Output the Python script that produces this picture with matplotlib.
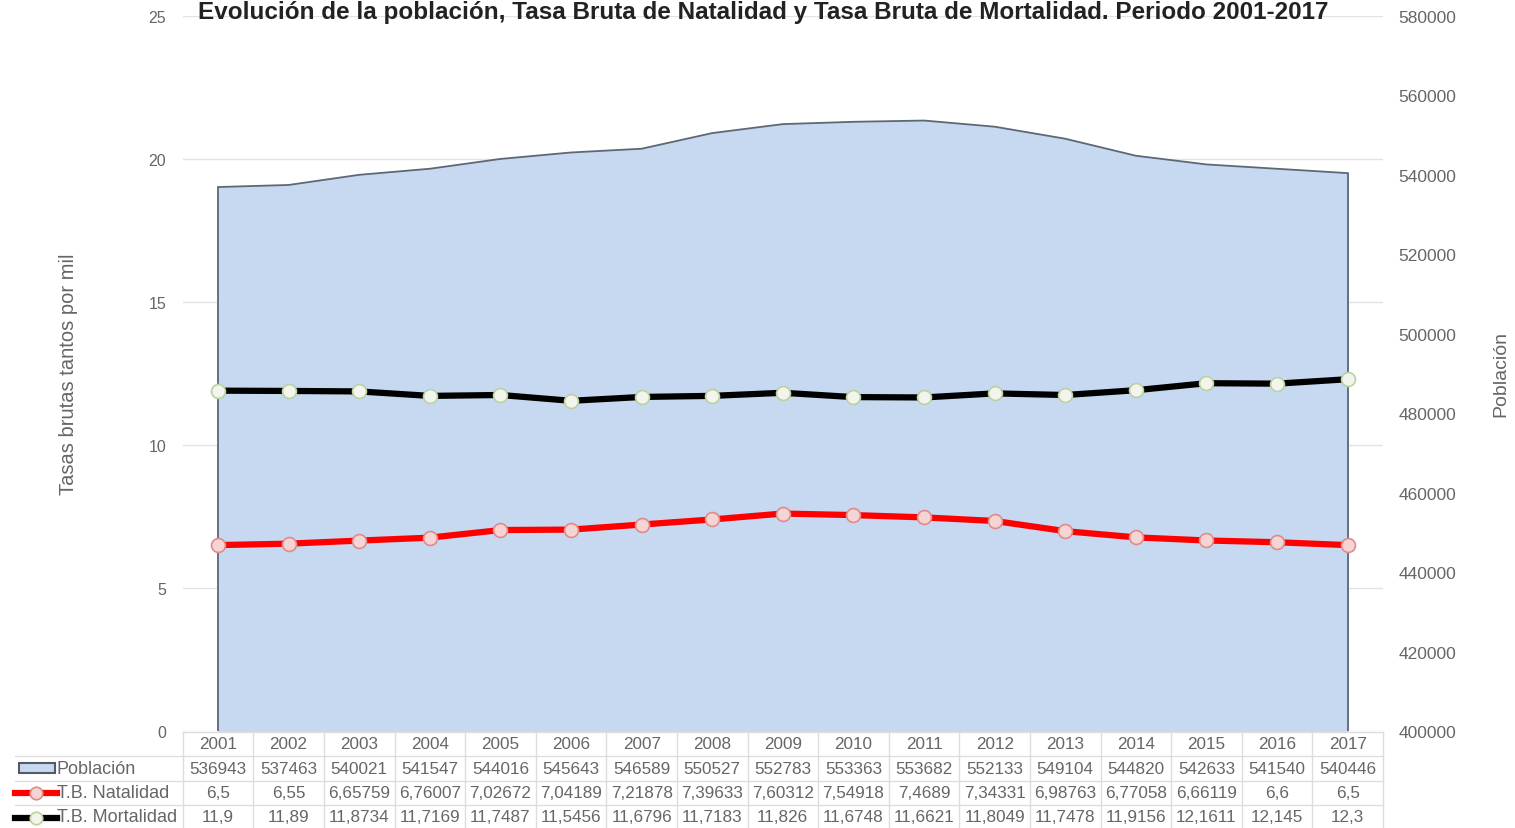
from matplotlib import pyplot as plt
from matplotlib.lines import Line2D
from matplotlib.patches import Rectangle
import matplotlib.transforms as mtransforms
import numpy as np

plt.rcParams['font.family'] = ['Liberation Sans', 'DejaVu Sans']

years = [2001, 2002, 2003, 2004, 2005, 2006, 2007, 2008, 2009,
         2010, 2011, 2012, 2013, 2014, 2015, 2016, 2017]
poblacion = [536943, 537463, 540021, 541547, 544016, 545643, 546589, 550527, 552783,
             553363, 553682, 552133, 549104, 544820, 542633, 541540, 540446]
natalidad = [6.5, 6.55, 6.65759, 6.76007, 7.02672, 7.04189, 7.21878, 7.39633, 7.60312,
             7.54918, 7.4689, 7.34331, 6.98763, 6.77058, 6.66119, 6.6, 6.5]
mortalidad = [11.9, 11.89, 11.8734, 11.7169, 11.7487, 11.5456, 11.6796, 11.7183, 11.826,
              11.6748, 11.6621, 11.8049, 11.7478, 11.9156, 12.1611, 12.145, 12.3]
row_names = ["Población", "T.B. Natalidad", "T.B. Mortalidad"]

W, H = 1515, 829
fig = plt.figure(figsize=(W / 100, H / 100), dpi=100)
fig.patch.set_facecolor("white")

# axes box in pixels
x0, x1 = 182.7, 1383.0
ytop, ybot = 17.0, 732.0
pos = [x0 / W, (H - ybot) / H, (x1 - x0) / W, (ybot - ytop) / H]

gray = "#666666"
x = np.arange(len(years))

ax = fig.add_axes(pos)
ax.set_xlim(-0.5, len(years) - 0.5)
ax.set_ylim(0, 25)
ax.set_yticks([0, 5, 10, 15, 20, 25])
ax.set_xticks([])
ax.grid(axis="y", color="#e3e3e3", linewidth=1)
ax.tick_params(axis="y", length=0, pad=12, labelsize=11.5, labelcolor=gray)
for s in ax.spines.values():
    s.set_visible(False)
ax.set_ylabel("Tasas brutas tantos por mil", fontsize=14.5, color=gray)
ax.yaxis.set_label_coords(-0.0875, 0.5)

ax2 = ax.twinx()
ax2.set_ylim(400000, 580000)
ax2.set_yticks(np.arange(400000, 580001, 20000))
ax2.tick_params(axis="y", length=0, pad=11, labelsize=12.5, labelcolor=gray)
for s in ax2.spines.values():
    s.set_visible(False)
ax2.fill_between(x, poblacion, 400000, color="#c6d9f0", zorder=1)
ax2.plot(x, poblacion, color="#5e6875", linewidth=1.3, zorder=2)
ax2.vlines([x[0], x[-1]], 400000, [poblacion[0], poblacion[-1]], color="#5e6875", linewidth=1.3, zorder=2)
ax2.set_ylabel("Población", fontsize=14, color=gray, rotation=90)
ax2.yaxis.set_label_coords(1.0915, 0.5)

ax3 = fig.add_axes(pos)
ax3.set_xlim(ax.get_xlim())
ax3.set_ylim(0, 25)
ax3.axis("off")
ax3.plot(x, mortalidad, color="black", linewidth=4.5, marker="o", markersize=10,
         markerfacecolor="#f4f4ee", markeredgecolor="#b9d2a0", markeredgewidth=1.2, zorder=4)
ax3.plot(x, natalidad, color="#ff0000", linewidth=4.5, marker="o", markersize=10,
         markerfacecolor="#f6d4d4", markeredgecolor="#e08a8a", markeredgewidth=1.2, zorder=4)

fig.text(763 / W, 1 - 0.5 / H,
         "Evolución de la población, Tasa Bruta de Natalidad y Tasa Bruta de Mortalidad. Periodo 2001-2017",
         ha="center", va="top", fontsize=17.5, fontweight="bold", color="#222222")

# data table under the chart
tr = mtransforms.blended_transform_factory(ax.transData, fig.transFigure)
rows_y = [733, 757, 781.5, 806, 830]
line_c = "#dddddd"
for k in range(len(years) + 1):
    fig.add_artist(Line2D([k - 0.5, k - 0.5], [1 - rows_y[0] / H, 1 - rows_y[-1] / H],
                          transform=tr, color=line_c, linewidth=1))
for j, py in enumerate(rows_y):
    xs = 15 / W if j >= 1 else x0 / W
    fig.add_artist(Line2D([xs, x1 / W], [1 - py / H, 1 - py / H],
                          transform=fig.transFigure, color=line_c, linewidth=1))

table_vals = [
    [str(v) for v in years],
    [str(v) for v in poblacion],
    [str(v).replace(".", ",") for v in natalidad],
    [str(v).replace(".", ",") for v in mortalidad],
]
for r, vals in enumerate(table_vals):
    yc = 1 - (rows_y[r] + rows_y[r + 1]) / 2 / H
    for i, t in enumerate(vals):
        fig.text(i, yc, t, transform=tr, ha="center", va="center",
                 fontsize=12.3, color=gray)
    if r >= 1:
        fig.text(57 / W, yc, row_names[r - 1], ha="left", va="center",
                 fontsize=13, color=gray)

# legend glyphs in the table
yc = 1 - 769 / H
fig.add_artist(Rectangle((19 / W, yc - 5 / H), 36 / W, 10 / H, transform=fig.transFigure,
                         facecolor="#c6d9f0", edgecolor="#555b66", linewidth=1.5))
for r, (lc, fc, ec) in enumerate([("#ff0000", "#f6d4d4", "#e08a8a"),
                                   ("black", "#f4f4ee", "#b9d2a0")]):
    yc = 1 - (794 + 24.5 * r) / H
    fig.add_artist(Line2D([15 / W, 57 / W], [yc, yc], transform=fig.transFigure,
                          color=lc, linewidth=4.5))
    fig.add_artist(Line2D([36 / W], [yc], transform=fig.transFigure, marker="o",
                          markersize=9, markerfacecolor=fc, markeredgecolor=ec,
                          markeredgewidth=1.2, linestyle="none"))

fig.savefig("out.png", dpi=100)
